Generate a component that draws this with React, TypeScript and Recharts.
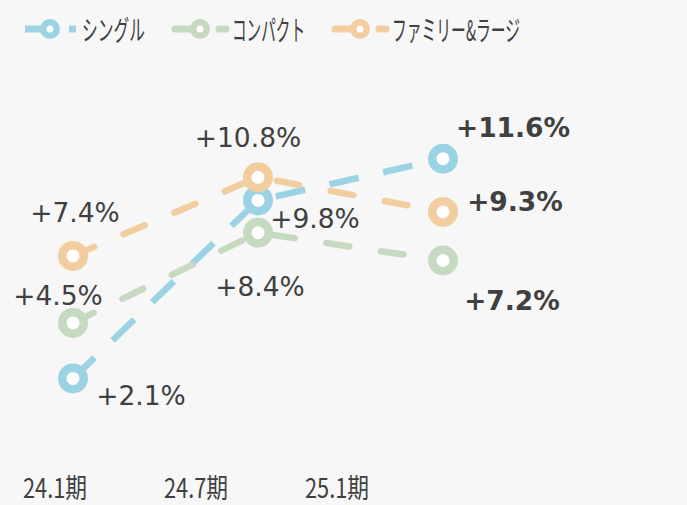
import React from 'react';
import { LineChart, Line, XAxis, YAxis, Legend, LabelList } from 'recharts';

const categories = ['24.1期', '24.7期', '25.1期'];
const singleValues = [2.1, 9.8, 11.6];
const compactValues = [4.5, 8.4, 7.2];
const familyValues = [7.4, 10.8, 9.3];
const seriesNames = ['シングル', 'コンパクト', 'ファミリー&ラージ'];

const data = categories.map((c, i) => ({
  period: c,
  single: singleValues[i],
  compact: compactValues[i],
  family: familyValues[i],
}));

const TEXT = '#404040';
const BG = '#f7f7f7';

const series = [
  { key: 'single', name: seriesNames[0], color: '#9bd3e5', cap: 'butt', dash: '30 25',
    offsets: [[68, 17], [57, 18], [70, -31]] },
  { key: 'compact', name: seriesNames[1], color: '#c6dac1', cap: 'round', dash: '23 32',
    offsets: [[-15, -27], [2, 54], [69, 40]] },
  { key: 'family', name: seriesNames[2], color: '#f2cd9f', cap: 'round', dash: '23 32',
    offsets: [[2, -43], [-10, -40], [72, -10]] },
];

const legendLayout = [
  { c: 50, w: 63 },
  { c: 200, w: 73 },
  { c: 360, w: 128 },
];

const LegendContent = () => (
  <svg width={687} height={50} style={{ display: 'block' }}>
    {series.map((s, i) => {
      const { c, w } = legendLayout[i];
      const y = 29;
      return (
        <g key={s.key}>
          <line x1={c - 25} x2={c} y1={y} y2={y} stroke={s.color} strokeWidth={7} strokeLinecap={s.cap as any} />
          <line x1={c + 19} x2={c + 26} y1={y} y2={y} stroke={s.color} strokeWidth={7} strokeLinecap={s.cap as any} />
          <circle cx={c} cy={y} r={6.75} fill="#fff" stroke={s.color} strokeWidth={6.5} />
          <text x={c + 32} y={y} dominantBaseline="central" fontSize={28} fill={TEXT}
            fontFamily="'Noto Sans CJK JP', sans-serif" textLength={w} lengthAdjust="spacingAndGlyphs">
            {s.name}
          </text>
        </g>
      );
    })}
  </svg>
);

const makeLabel = (offsets: number[][]) => (props: any) => {
  const { x, y, value, index } = props;
  const [dx, dy] = offsets[index];
  return (
    <text x={x + dx} y={y + dy} textAnchor="middle" dominantBaseline="central"
      fontSize={26.5} fontFamily="'DejaVu Sans', sans-serif" fill={TEXT}
      fontWeight={index === categories.length - 1 ? 700 : 400}>
      {`+${Number(value).toFixed(1)}%`}
    </text>
  );
};

const makeDot = (color: string) => (props: any) => (
  <circle key={`d-${props.index}`} cx={props.cx} cy={props.cy} r={10.75} fill="#fff" stroke={color} strokeWidth={8.5} />
);

const CategoryTick = (props: any) => {
  const { x, y, payload } = props;
  return (
    <text x={x} y={y} dy={63} textAnchor="middle" fontSize={27} fill={TEXT}
      fontFamily="'Noto Sans CJK JP', sans-serif" textLength={64} lengthAdjust="spacingAndGlyphs">
      {payload.value}
    </text>
  );
};

export default function App() {
  return (
    <div style={{ position: 'absolute', left: 0, top: 0, width: 687, height: 505, background: BG }}>
      <LineChart width={687} height={505} data={data} margin={{ top: 7, right: 0, bottom: 0, left: 0 }}>
        <XAxis xAxisId="main" dataKey="period" hide padding={{ left: 73, right: 244 }} />
        <XAxis xAxisId="lbl" dataKey="period" axisLine={false} tickLine={false} height={78}
          padding={{ left: 55, right: 350 }} tick={<CategoryTick />} interval={0} />
        <YAxis hide domain={[0, 16]} />
        <Legend verticalAlign="top" align="left" height={50} content={<LegendContent />}
          wrapperStyle={{ top: 0, left: 0, width: 687, height: 50 }} />
        {series.map((s) => (
          <Line key={s.key} xAxisId="main" type="linear" dataKey={s.key} name={s.name}
            stroke={s.color} strokeWidth={6.5} strokeDasharray={s.dash} strokeLinecap={s.cap as any}
            dot={makeDot(s.color)} activeDot={false} isAnimationActive={false}>
            <LabelList dataKey={s.key} content={makeLabel(s.offsets)} />
          </Line>
        ))}
      </LineChart>
    </div>
  );
}
